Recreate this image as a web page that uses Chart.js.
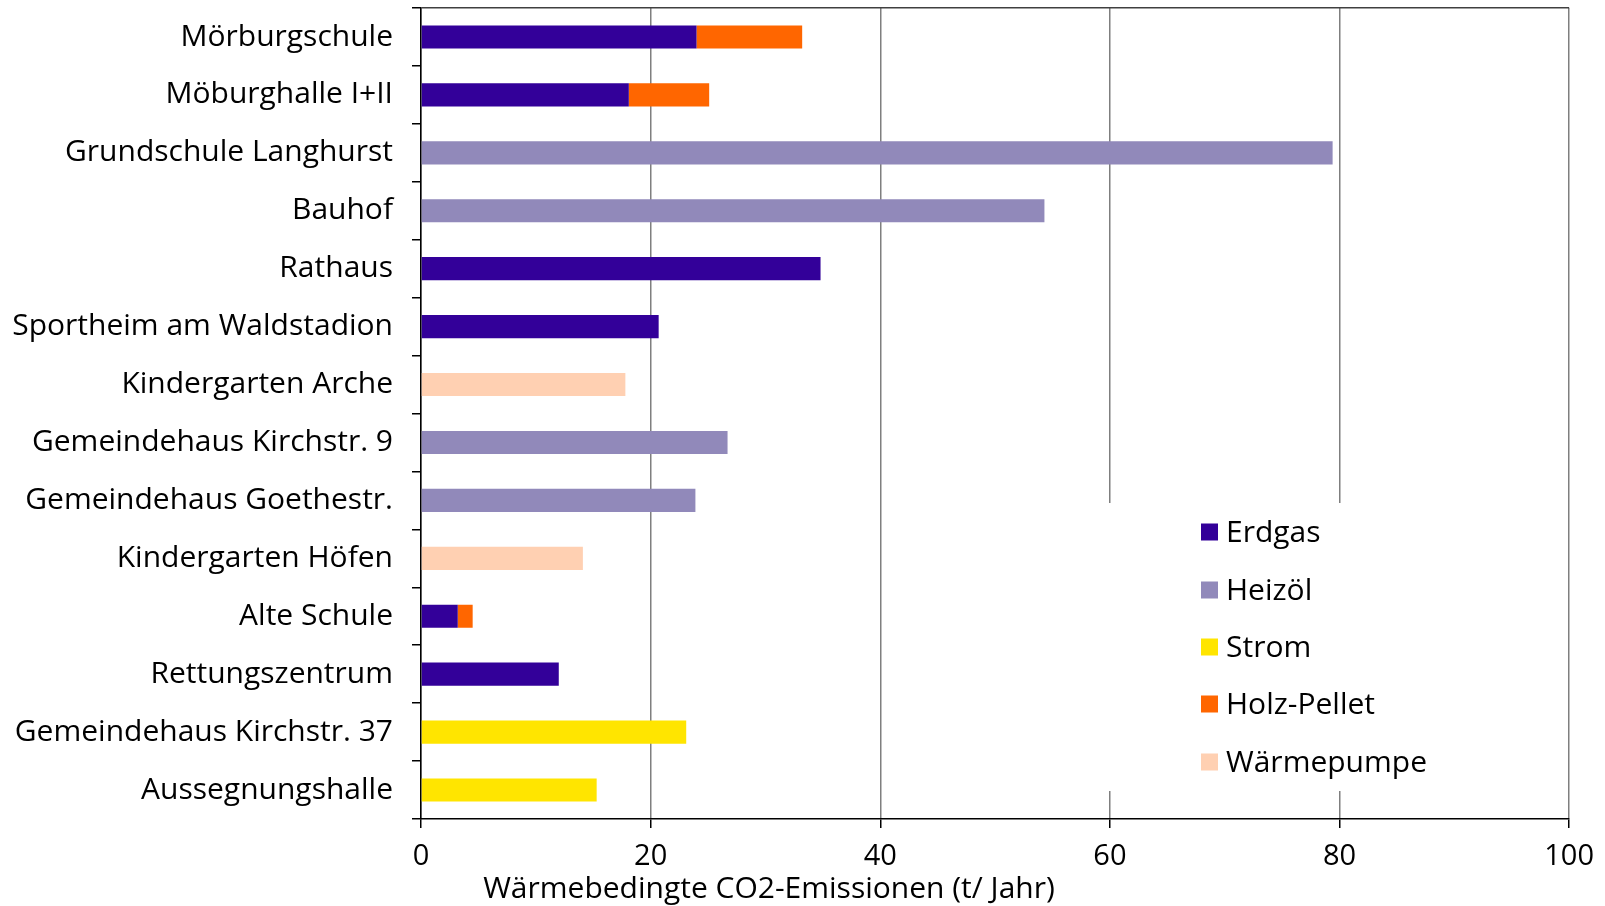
<!DOCTYPE html>
<html lang="de">
<head>
<meta charset="utf-8">
<title>Wärmebedingte CO2-Emissionen</title>
<script src="https://cdn.jsdelivr.net/npm/chart.js@4/dist/chart.umd.min.js"></script>
<style>
  html, body { margin: 0; padding: 0; background: #ffffff; }
  #wrap { width: 1605px; height: 906px; }
</style>
</head>
<body>
<div id="wrap"><canvas id="chart" width="1605" height="906"></canvas></div>
<script>
// Gebäude (von oben nach unten)
const categories = [
  'Mörburgschule',
  'Möburghalle I+II',
  'Grundschule Langhurst',
  'Bauhof',
  'Rathaus',
  'Sportheim am Waldstadion',
  'Kindergarten Arche',
  'Gemeindehaus Kirchstr. 9',
  'Gemeindehaus Goethestr.',
  'Kindergarten Höfen',
  'Alte Schule',
  'Rettungszentrum',
  'Gemeindehaus Kirchstr. 37',
  'Aussegnungshalle'
];

// CO2-Emissionen je Energieträger (t/Jahr)
const erdgas      = [24.0, 18.1, null, null, 34.8, 20.7, null, null, null, null, 3.2, 12.0, null, null];
const heizoel     = [null, null, 79.4, 54.3, null, null, null, 26.7, 23.9, null, null, null, null, null];
const strom       = [null, null, null, null, null, null, null, null, null, null, null, null, 23.1, 15.3];
const holzPellet  = [9.2, 7.0, null, null, null, null, null, null, null, null, 1.3, null, null, null];
const waermepumpe = [null, null, null, null, null, null, 17.8, null, null, 14.1, null, null, null, null];

const seriesNames = ['Erdgas', 'Heizöl', 'Strom', 'Holz-Pellet', 'Wärmepumpe'];
const xTicks = [0, 20, 40, 60, 80, 100];
const axisTitle = 'Wärmebedingte CO2-Emissionen (t/ Jahr)';

const colors = ['#330099', '#9189BA', '#FFE500', '#FF6600', '#FFD0B2'];
const FONT = '"Open Sans", "Noto Sans", sans-serif';

const seriesValues = [erdgas, heizoel, strom, holzPellet, waermepumpe];
const datasets = seriesNames.map((name, i) => ({
  label: name,
  data: seriesValues[i],
  backgroundColor: colors[i],
  borderWidth: 0,
  categoryPercentage: 0.8,
  barPercentage: 0.5
}));

// Legende innerhalb der Zeichenfläche mit weißem Hintergrund
const insideLegend = {
  id: 'insideLegend',
  afterDatasetsDraw(chart) {
    const ctx = chart.ctx;
    ctx.save();
    ctx.fillStyle = '#ffffff';
    ctx.fillRect(1100, 503, 460, 288);
    const rowY = [532, 590, 647, 704, 762];
    ctx.font = '30px ' + FONT;
    ctx.textBaseline = 'middle';
    ctx.textAlign = 'left';
    chart.data.datasets.forEach((ds, i) => {
      ctx.fillStyle = ds.backgroundColor;
      ctx.fillRect(1201, rowY[i] - 8.5, 17, 17);
      ctx.fillStyle = '#000000';
      ctx.fillText(ds.label, 1226, rowY[i] + 1);
    });
    ctx.restore();
  }
};

// Achsentitel der x-Achse
const xTitle = {
  id: 'xTitle',
  afterDraw(chart) {
    const ctx = chart.ctx;
    ctx.save();
    ctx.font = '30px ' + FONT;
    ctx.fillStyle = '#000000';
    ctx.textAlign = 'center';
    ctx.textBaseline = 'alphabetic';
    ctx.fillText(axisTitle, 769, 898);
    ctx.restore();
  }
};

new Chart(document.getElementById('chart'), {
  type: 'bar',
  data: { labels: categories, datasets },
  options: {
    indexAxis: 'y',
    responsive: false,
    animation: false,
    layout: { padding: { top: 8, right: 35, left: 0, bottom: 0 } },
    plugins: {
      legend: { display: false },
      tooltip: { enabled: false }
    },
    scales: {
      x: {
        stacked: true,
        min: 0,
        max: 100,
        afterBuildTicks(scale) { scale.ticks = xTicks.map(v => ({ value: v })); },
        afterFit(scale) { scale.height = 87; },
        grid: {
          color: '#7f7f7f',
          lineWidth: 1.5,
          tickLength: 9,
          tickColor: '#000000'
        },
        border: { display: true, color: '#000000', width: 1.5 },
        ticks: {
          color: '#000000',
          font: { family: FONT, size: 29 },
          padding: 11,
          maxRotation: 0
        }
      },
      y: {
        stacked: true,
        afterFit(scale) {
          scale.width = 421;
          scale.paddingTop = 0;
          scale.paddingBottom = 0;
        },
        grid: {
          offset: true,
          drawOnChartArea: true,
          color: ctx => ctx.index === 0 ? '#404040' : 'rgba(0,0,0,0)',
          lineWidth: 1.5,
          tickLength: 9,
          tickColor: '#000000'
        },
        border: { display: true, color: '#000000', width: 1.5 },
        ticks: {
          color: '#000000',
          font: { family: FONT, size: 30 },
          padding: 19,
          autoSkip: false
        }
      }
    }
  },
  plugins: [insideLegend, xTitle]
});
</script>
</body>
</html>
